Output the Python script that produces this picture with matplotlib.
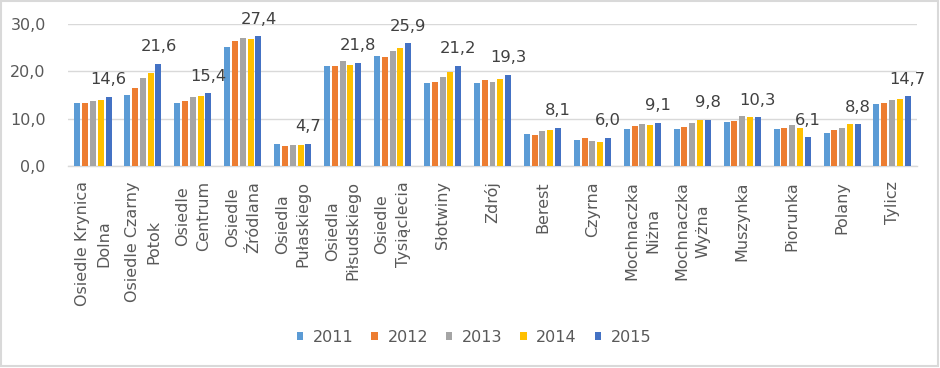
import matplotlib
matplotlib.use("Agg")
import matplotlib.pyplot as plt
import numpy as np
from matplotlib.patches import Rectangle

categories = ["Osiedle Krynica\nDolna", "Osiedle Czarny\nPotok", "Osiedle\nCentrum",
              "Osiedle\nŹródlana", "Osiedla\nPułaskiego", "Osiedla\nPiłsudskiego",
              "Osiedle\nTysiąclecia", "Słotwiny", "Zdrój", "Berest", "Czyrna",
              "Mochnaczka\nNiżna", "Mochnaczka\nWyżna", "Muszynka", "Piorunka",
              "Polany", "Tylicz"]
years = ["2011", "2012", "2013", "2014", "2015"]
v2011 = [13.3, 15.0, 13.4, 25.1, 4.7, 21.1, 23.2, 17.5, 17.5, 6.8, 5.5, 7.8, 7.8, 9.2, 7.8, 7.0, 13.1]
v2012 = [13.3, 16.5, 13.8, 26.4, 4.3, 21.1, 23.0, 17.8, 18.2, 6.6, 5.9, 8.5, 8.2, 9.6, 8.0, 7.6, 13.3]
v2013 = [13.8, 18.6, 14.5, 27.0, 4.5, 22.2, 24.3, 18.8, 17.8, 7.4, 5.3, 8.9, 9.1, 10.5, 8.7, 8.0, 13.9]
v2014 = [14.0, 19.7, 14.7, 26.8, 4.5, 21.4, 24.9, 19.9, 18.4, 7.6, 5.1, 8.7, 9.8, 10.3, 8.0, 8.8, 14.2]
v2015 = [14.6, 21.6, 15.4, 27.4, 4.7, 21.8, 25.9, 21.2, 19.3, 8.1, 6.0, 9.1, 9.8, 10.3, 6.1, 8.8, 14.7]
series = [v2011, v2012, v2013, v2014, v2015]
colors = ["#5B9BD5", "#ED7D31", "#A5A5A5", "#FFC000", "#4472C4"]

fig = plt.figure(figsize=(9.4, 3.68), dpi=100)
ax = fig.add_axes([68/940, 1-166/368, (917-68)/940, (166-24)/368])

x = np.arange(len(categories))
pitch = 0.156
width = 0.12
for k, (vals, col, yr) in enumerate(zip(series, colors, years)):
    ax.bar(x + (k-2)*pitch, vals, width=width, color=col, label=yr, zorder=3)

for xi, v in zip(x, v2015):
    ax.annotate(f"{v:.1f}".replace(".", ","), (xi + 2*pitch, v), xytext=(0, 9),
                textcoords="offset points", ha="center", va="baseline",
                fontsize=11.8, color="#404040")

ax.set_xlim(-0.5, len(categories)-0.5)
ax.set_ylim(0, 30)
ax.set_yticks([0, 10, 20, 30])
ax.set_yticklabels([f"{t:.1f}".replace(".", ",") for t in [0, 10, 20, 30]])
ax.set_xticks(x)
ax.set_xticklabels(categories, rotation=90, linespacing=1.5)
ax.tick_params(axis="x", length=0, pad=11, labelsize=11.5, colors="#595959")
ax.tick_params(axis="y", length=0, pad=16, labelsize=11.5, colors="#595959")
ax.grid(axis="y", color="#D9D9D9", linewidth=1, zorder=0)
for s in ["left", "right", "top"]:
    ax.spines[s].set_visible(False)
ax.spines["bottom"].set_color("#D9D9D9")
ax.spines["bottom"].set_linewidth(1)

handles, labels = ax.get_legend_handles_labels()
leg = fig.legend(handles, labels, loc="center", bbox_to_anchor=(474/940, 1-337/368),
                 ncol=5, frameon=False, fontsize=11.5, handlelength=0.42, handleheight=0.42,
                 handletextpad=0.6, columnspacing=1.1, labelcolor="#595959")

fig.patches.append(Rectangle((0.5/940, 2/368), 937/940, 365/368, transform=fig.transFigure,
                             fill=False, edgecolor="#D9D9D9", linewidth=1.5))

fig.savefig("out.png", dpi=100, facecolor="white")
